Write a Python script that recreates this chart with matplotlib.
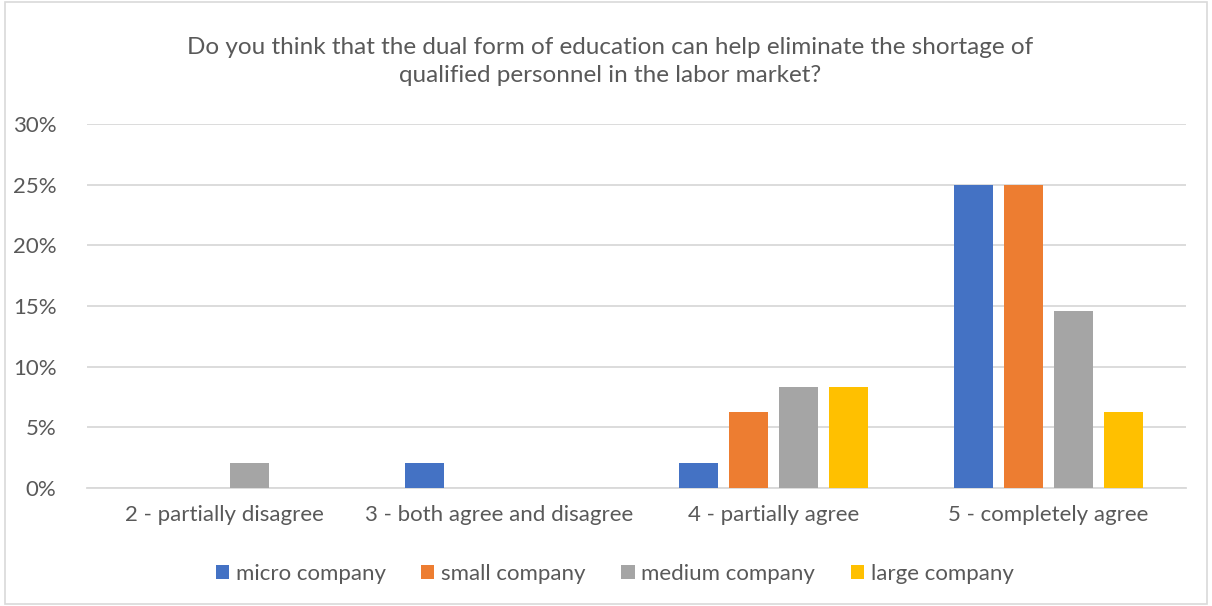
import matplotlib.pyplot as plt
import numpy as np
from matplotlib.ticker import PercentFormatter

plt.rcParams['font.family'] = ['Lato', 'DejaVu Sans']

categories = ["2 - partially disagree", "3 - both agree and disagree",
              "4 - partially agree", "5 - completely agree"]
series = ["micro company", "small company", "medium company", "large company"]
micro = [0, 2.08, 2.08, 25.0]
small = [0, 0, 6.25, 25.0]
medium = [2.08, 0, 8.33, 14.58]
large = [0, 0, 8.33, 6.25]
colors = ["#4472C4", "#ED7D31", "#A5A5A5", "#FFC000"]

fig = plt.figure(figsize=(12.12, 6.06), dpi=100)
ax = fig.add_axes([0.0718, 0.1947, 0.9068, 0.6007])

x = np.arange(len(categories))
width = 0.142
step = 0.182
for i, (vals, name) in enumerate(zip([micro, small, medium, large], series)):
  ax.bar(x + (i - 1.5) * step, vals, width, color=colors[i], label=name, zorder=3)

ax.set_xlim(-0.5, 3.5)
ax.set_ylim(0, 30)
ax.set_yticks(range(0, 31, 5))
ax.yaxis.set_major_formatter(PercentFormatter(decimals=0))
ax.set_xticks(x)
ax.set_xticklabels(categories)
ax.grid(axis='y', color='#D9D9D9', linewidth=1.3, zorder=0)
for s in ['top', 'right', 'left']:
  ax.spines[s].set_visible(False)
ax.spines['bottom'].set_color('#D9D9D9')
ax.spines['bottom'].set_linewidth(1.3)
ax.tick_params(length=0, labelsize=16, colors='#595959', pad=12)
ax.tick_params(axis='y', pad=22)

fig.text(0.503, 0.898, "Do you think that the dual form of education can help eliminate the shortage of\nqualified personnel in the labor market?",
         ha='center', va='center', fontsize=17.5, color='#595959', linespacing=1.4)

ax.legend(loc='center', bbox_to_anchor=(0.48, -0.235), ncol=4, frameon=False,
          fontsize=16, labelcolor='#595959', handlelength=0.6, handleheight=0.6,
          handletextpad=0.3, columnspacing=1.6)

fig.patches.append(plt.Rectangle((0.004, 0.004), 0.992, 0.992, transform=fig.transFigure,
                                 fill=False, edgecolor='#D9D9D9', linewidth=1.2))

fig.savefig('out.png', dpi=100)
